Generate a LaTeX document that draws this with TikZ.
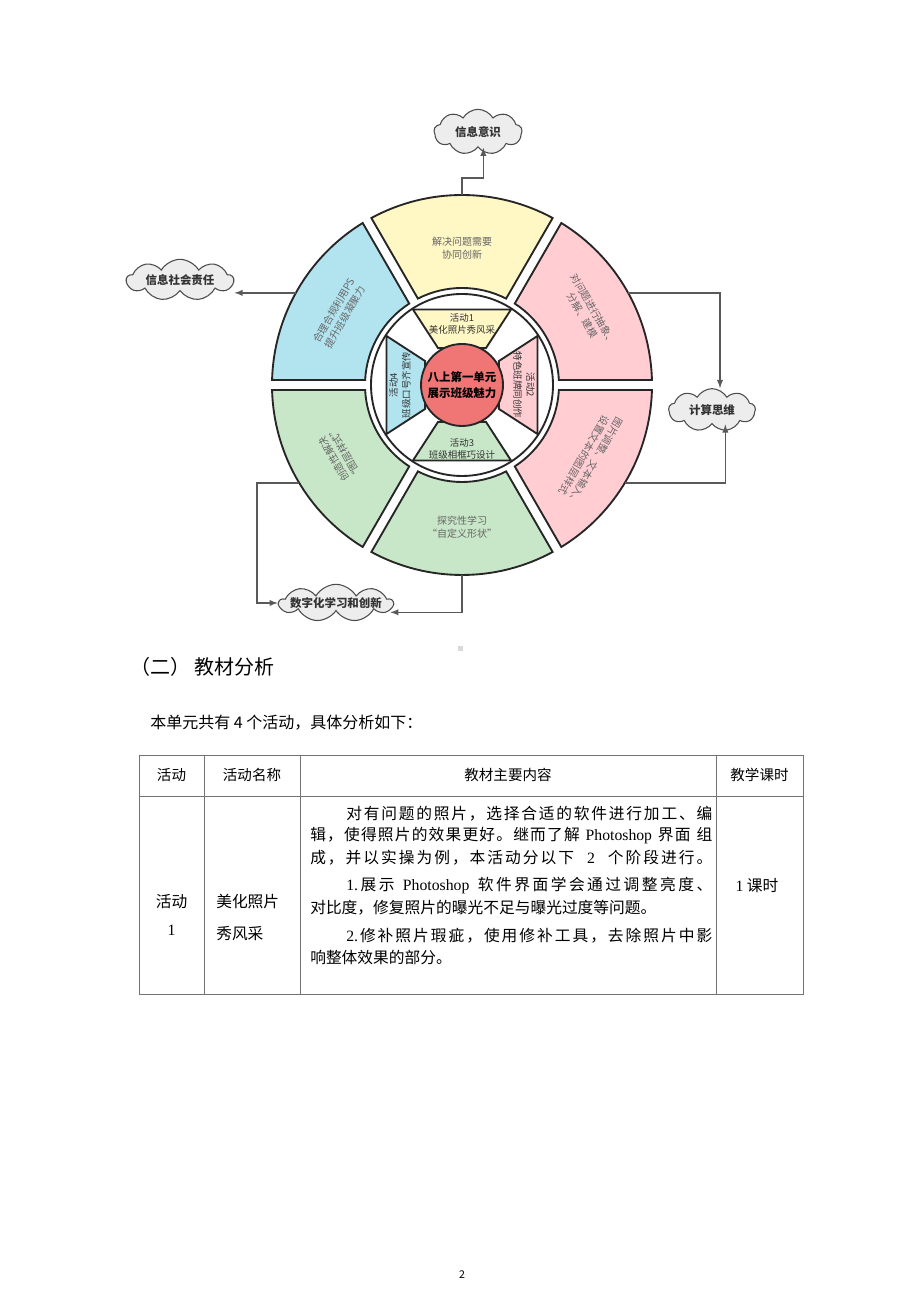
\documentclass[tikz,border=0pt]{standalone}
\usepackage{fontspec}
\setmainfont{Noto Sans CJK SC}
\newfontfamily\latinserif{Liberation Serif}
\usetikzlibrary{shapes.symbols}

\definecolor{segyellow}{RGB}{255,247,196}
\definecolor{segpink}{RGB}{255,205,210}
\definecolor{segblue}{RGB}{178,228,240}
\definecolor{seggreen}{RGB}{200,230,200}
\definecolor{segred}{RGB}{240,118,118}

% one block of the outer ring: start angle, end angle, colour
\newcommand{\ringseg}[3]{%
  \filldraw[segline, fill=#3] ({#1+asin(5/97)}:97) -- ({#1+asin(5/190)}:190)
    arc[start angle={#1+asin(5/190)}, end angle={#2-asin(5/190)}, radius=190]
    -- ({#2-asin(5/97)}:97)
    arc[start angle={#2-asin(5/97)}, end angle={#1+asin(5/97)}, radius=97] -- cycle;}
% one activity block of the inner ring: middle angle, colour
\newcommand{\actseg}[2]{%
  \filldraw[segline, fill=#2] ({#1-33}:44) -- ({#1-33}:90) -- ({#1+33}:90) -- ({#1+33}:44) -- cycle;}
\newcommand{\ctext}[1]{\makebox[0.5\width]{#1}}
% a justified table line: glue between every character, width in pt
\def\spreadchars#1{\spreadfirst#1\relax}
\def\spreadfirst#1{{#1}\spreadnext}
\def\spreadnext#1{\ifx\relax#1\else\hfil{#1}\expandafter\spreadnext\fi}
\newcommand{\jline}[2]{\hbox to #1pt{\spreadchars{#2}}}

\tikzset{
  segline/.style={draw=black!85, line width=1.4pt},
  outertxt/.style={text=black!60, font=\fontsize{7.5}{9.5}\selectfont, align=center, inner sep=0pt},
  acttxt/.style={text=black!80, font=\fontsize{7.1}{9.5}\selectfont, align=center, inner sep=0pt},
  centertxt/.style={font=\bfseries\fontsize{8.6}{12.5}\selectfont, align=center, inner sep=0pt},
  cloudbox/.style={cloud, cloud puffs=9, cloud puff arc=120, cloud ignores aspect,
    draw=black!70, fill=black!7, line width=0.8pt, inner sep=0pt,
    text=black!80, font=\bfseries\fontsize{8.6}{10}\selectfont},
  link/.style={draw=black!65, line width=1.1pt, -latex},
  tabline/.style={draw=black!55, line width=0.6pt},
  tabhead/.style={font=\fontsize{10.9}{13}\selectfont, inner sep=0pt},
  tabtxt/.style={font=\fontsize{11.8}{14}\selectfont, anchor=west, inner sep=0pt},
}

\begin{document}
\begin{tikzpicture}[x=0.75pt,y=0.75pt]
\fill[white] (0,0) rectangle (920,1302);
\useasboundingbox (0,0) rectangle (920,1302);

% wheel
\begin{scope}[shift={(462,917)}]
  \ringseg{-60}{0}{segpink}
  \ringseg{0}{60}{segpink}
  \ringseg{60}{120}{segyellow}
  \ringseg{120}{180}{segblue}
  \ringseg{180}{240}{seggreen}
  \ringseg{240}{300}{seggreen}
  \draw[segline, fill=white] (0,0) circle[radius=91];
  \actseg{90}{segyellow}
  \actseg{0}{segpink}
  \actseg{270}{seggreen}
  \actseg{180}{segblue}
  \draw[segline, fill=segred] (0,0) circle[radius=41];

  \node[centertxt] (unit) at (0,0) {八上第一单元\\展示班级魅力};

  \node[acttxt] (act1) at (90:61) {活动1\\美化照片秀风采};
  \node[acttxt, rotate=-90] (act2) at (0:62) {活动2\\特色班牌同创作};
  \node[acttxt] (act3) at (270:64) {活动3\\班级相框巧设计};
  \node[acttxt, rotate=90] (act4) at (180:62) {活动4\\班级口号齐宣传};

  \node[outertxt] (yel) at (90:137) {解决问题需要\\协同创新};
  \node[outertxt, rotate=-60] (pku) at (30:145) {对问题进行抽象、\\分解、建模};
  \node[outertxt, rotate=-120] (pkl) at (-30:147) {图片调整、文本输入、\\设置文本的图层样式};
  \node[outertxt] (grb) at (270:142) {探究性学习\\“自定义形状”};
  \node[outertxt, rotate=120] (grl) at (210:142) {创造性解决\\“图层样式”};
  \node[outertxt, rotate=60] (blu) at (150:142) {合理合规利用PS\\提升班级凝聚力};

  \coordinate (yo) at (90:190);
  \coordinate (bo) at (151:190);
  \coordinate (pu) at (29:190);
  \coordinate (pl) at (-31:190);
  \coordinate (gl) at (211:190);
  \coordinate (go) at (270:190);
\end{scope}

% clouds
\node[cloudbox, minimum width=66pt, minimum height=34pt] (xxys) at (478,1170) {\ctext{信息意识}};
\node[cloudbox, minimum width=80pt, minimum height=31pt] (shzr) at (180,1022) {\ctext{信息社会责任}};
\node[cloudbox, minimum width=65pt, minimum height=32pt] (jssw) at (712,892) {\ctext{计算思维}};
\node[cloudbox, minimum width=85pt, minimum height=28pt] (szcx) at (336,699) {\ctext{数字化学习和创新}};

\draw[link] (yo) -- ++(0,17) -| ([xshift=4pt]xxys.south);
\draw[link] (bo) -- (bo -| shzr.east);
\draw[link] (pu) -| ([xshift=6pt]jssw.north);
\draw[link] (pl) -| ([xshift=10pt]jssw.south);
\draw[link] (gl) -- ++(-42,0) |- (szcx.west);
\draw[link] (go) |- ([xshift=-3pt,yshift=-7pt]szcx.east);

\fill[black!15] (458,651) rectangle (463,656);

% text below
\node[anchor=west, inner sep=0pt, font=\fontsize{15}{18}\selectfont] (head) at (130,635) {（二） 教材分析};
\node[anchor=west, inner sep=0pt, font=\fontsize{12}{14}\selectfont] (intro) at (150,579) {本单元共有 4 个活动，具体分析如下：};

% table
\draw[tabline] (139,308) rectangle (803,547);
\draw[tabline] (139,506) -- (803,506);
\draw[tabline] (204,308) -- (204,547);
\draw[tabline] (300,308) -- (300,547);
\draw[tabline] (716,308) -- (716,547);

\node[tabhead] (h1) at (171.5,527) {活动};
\node[tabhead] (h2) at (252,527) {活动名称};
\node[tabhead] (h3) at (508,527) {教材主要内容};
\node[tabhead] (h4) at (759.5,527) {教学课时};

\node[tabtxt, anchor=center] (r1a) at (171.5,400) {活动};
\node[tabtxt, anchor=center] (r1b) at (171.5,372) {\latinserif 1};
\node[tabtxt] (r2a) at (216,400) {美化照片};
\node[tabtxt] (r2b) at (216,368) {秀风采};
\node[tabtxt] (l1) at (346,488) {\jline{274.5}{对有问题的照片，选择合适的软件进行加工、编}};
\node[tabtxt] (l2) at (310,466) {\jline{301.5}{辑，使得照片的效果更好。继而了解\ {\latinserif Photoshop}\ 界面\ 组}};
\node[tabtxt] (l3) at (310,444) {\jline{301.5}{成，并以实操为例，本活动分以下\ \ {\latinserif 2}\ \ 个阶段进行。}};
\node[tabtxt] (l4) at (346,416) {\jline{274.5}{{\latinserif 1.}展示\ {\latinserif Photoshop}\ 软件界面学会通过调整亮度、}};
\node[tabtxt] (l5) at (310,394) {对比度，修复照片的曝光不足与曝光过度等问题。};
\node[tabtxt] (l6) at (346,366) {\jline{274.5}{{\latinserif 2.}修补照片瑕疵，使用修补工具，去除照片中影}};
\node[tabtxt] (l7) at (310,344) {响整体效果的部分。};
\node[tabtxt, anchor=center] (r4) at (757,416) {{\latinserif 1} 课时};

\node[inner sep=0pt, font=\fontsize{8}{10}\selectfont] (page) at (462,27) {2};
\end{tikzpicture}
\end{document}
